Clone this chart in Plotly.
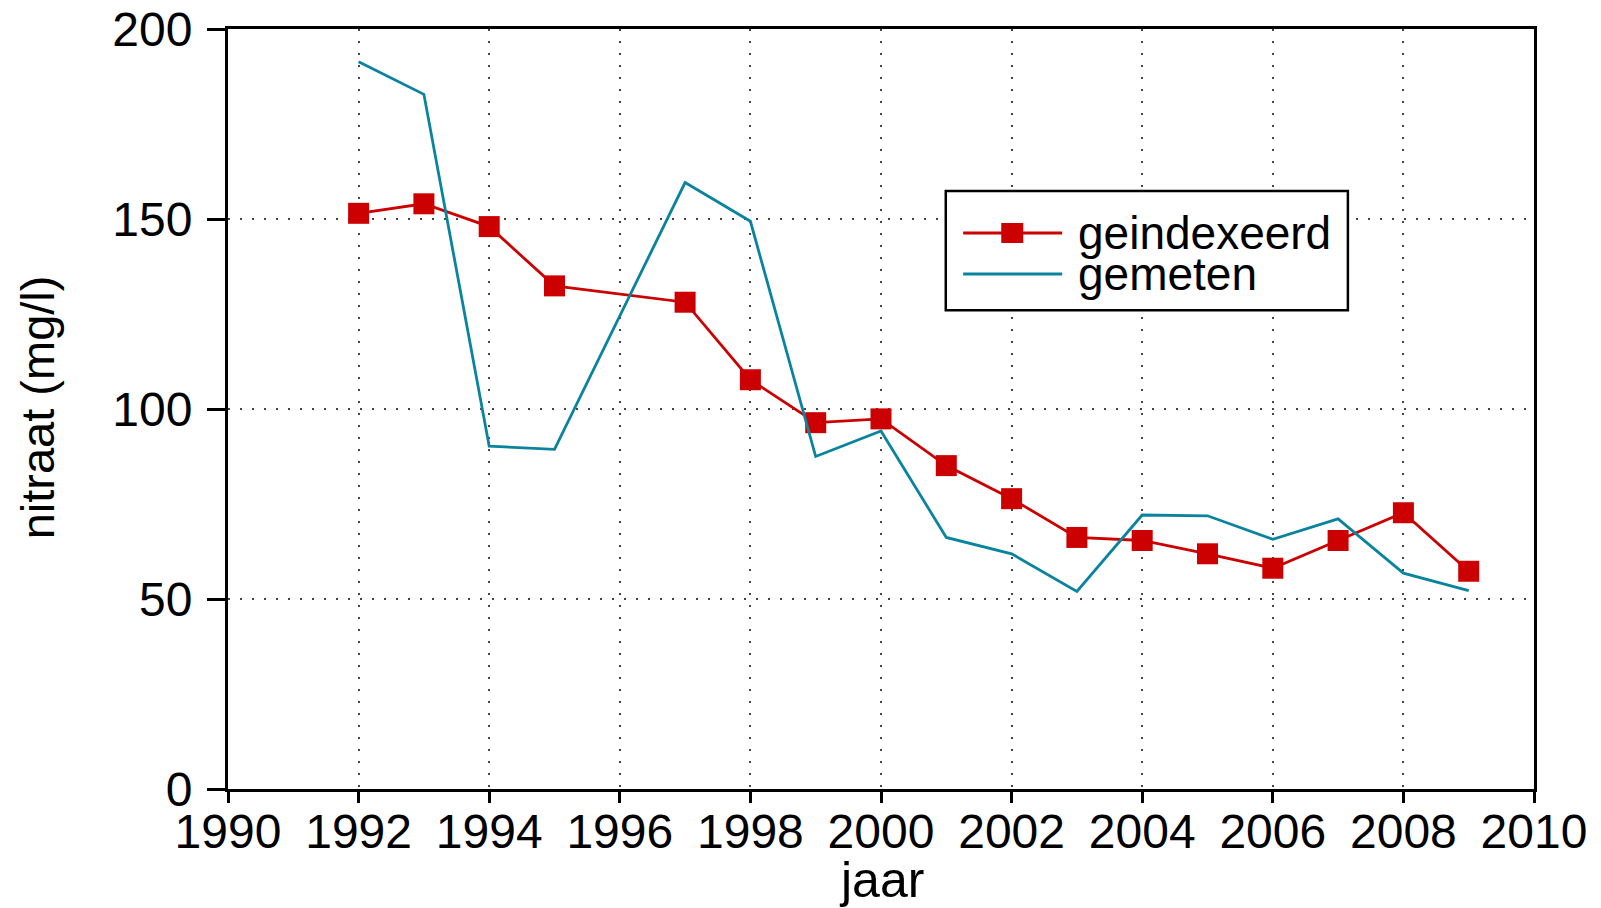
import plotly.graph_objects as go

# jaartallen (1996 ontbreekt in beide reeksen)
jaren = [1992, 1993, 1994, 1995, 1997, 1998, 1999, 2000, 2001,
         2002, 2003, 2004, 2005, 2006, 2007, 2008, 2009]

geindexeerd = [151.5, 154.0, 148.0, 132.4, 128.1, 107.7, 96.4, 97.4, 85.1,
               76.4, 66.2, 65.4, 61.9, 58.1, 65.4, 72.7, 57.3]

gemeten = [191.4, 182.8, 90.2, 89.4, 159.6, 149.4, 87.5, 94.2, 66.2,
           61.9, 52.0, 72.1, 71.9, 65.7, 71.1, 56.8, 52.2]

reeksen = ['geindexeerd', 'gemeten']

rood = '#CC0000'
blauw = '#0A849E'
lettertype = 'Liberation Sans, Arial, sans-serif'

fig = go.Figure()
fig.add_trace(go.Scatter(x=jaren, y=geindexeerd, name=reeksen[0],
                         mode='lines+markers',
                         line=dict(color=rood, width=2.8),
                         marker=dict(symbol='square', size=21, color=rood)))
fig.add_trace(go.Scatter(x=jaren, y=gemeten, name=reeksen[1],
                         mode='lines',
                         line=dict(color=blauw, width=2.8)))

as_stijl = dict(showline=True, linecolor='black', linewidth=3, mirror=True,
                ticks='outside', tickcolor='black', tickwidth=3,
                showgrid=True, gridcolor='#444444', griddash='2px,10px', gridwidth=1.5,
                zeroline=False, automargin=False, ticklabeloverflow='allow',
                tickfont=dict(size=48, color='black'))

fig.update_xaxes(range=[1990, 2010], dtick=2, tick0=1990, ticklen=11,
                 ticklabelstandoff=-13, **as_stijl)
fig.update_yaxes(range=[0, 200], dtick=50, ticklen=18,
                 ticklabelstandoff=5, **as_stijl)

# astitels als losse tekst, zodat de plaats vastligt
fig.add_annotation(text='jaar', xref='paper', yref='paper', x=0.5, y=-0.12,
                   xanchor='center', yanchor='middle', showarrow=False,
                   font=dict(size=50, color='black'))
fig.add_annotation(text='nitraat (mg/l)', xref='paper', yref='paper', x=-0.146, y=0.5026,
                   xanchor='center', yanchor='middle', textangle=-90, showarrow=False,
                   font=dict(size=47, color='black'))

# zelfgemaakte legenda met langere lijnstukjes zoals in het origineel
fig.add_shape(type='rect', xref='paper', yref='paper',
              x0=0.5496, x1=0.8575, y0=0.630, y1=0.787,
              line=dict(color='black', width=2.5), fillcolor='white', layer='above')
legenda = [(reeksen[0], rood, 0.7316, True), (reeksen[1], blauw, 0.6776, False)]
for naam, kleur, ypos, met_marker in legenda:
    fig.add_shape(type='line', xref='paper', yref='paper',
                  x0=0.5629, x1=0.6387, y0=ypos, y1=ypos,
                  line=dict(color=kleur, width=3), layer='above')
    if met_marker:
        fig.add_shape(type='rect', xref='paper', yref='paper',
                      xsizemode='pixel', ysizemode='pixel',
                      xanchor=0.6005, yanchor=ypos,
                      x0=-11, x1=11, y0=-10, y1=10,
                      line=dict(width=0), fillcolor=kleur, layer='above')
    fig.add_annotation(text=naam, xref='paper', yref='paper',
                       x=0.6495, y=ypos, xanchor='left', yanchor='middle',
                       showarrow=False, font=dict(size=46, color='black'))

fig.update_layout(
    width=1593, height=900,
    margin=dict(l=220, r=67, t=21, b=119),
    plot_bgcolor='white', paper_bgcolor='white',
    font=dict(family=lettertype, color='black'),
    showlegend=False,
)

fig.write_html('out.html')
